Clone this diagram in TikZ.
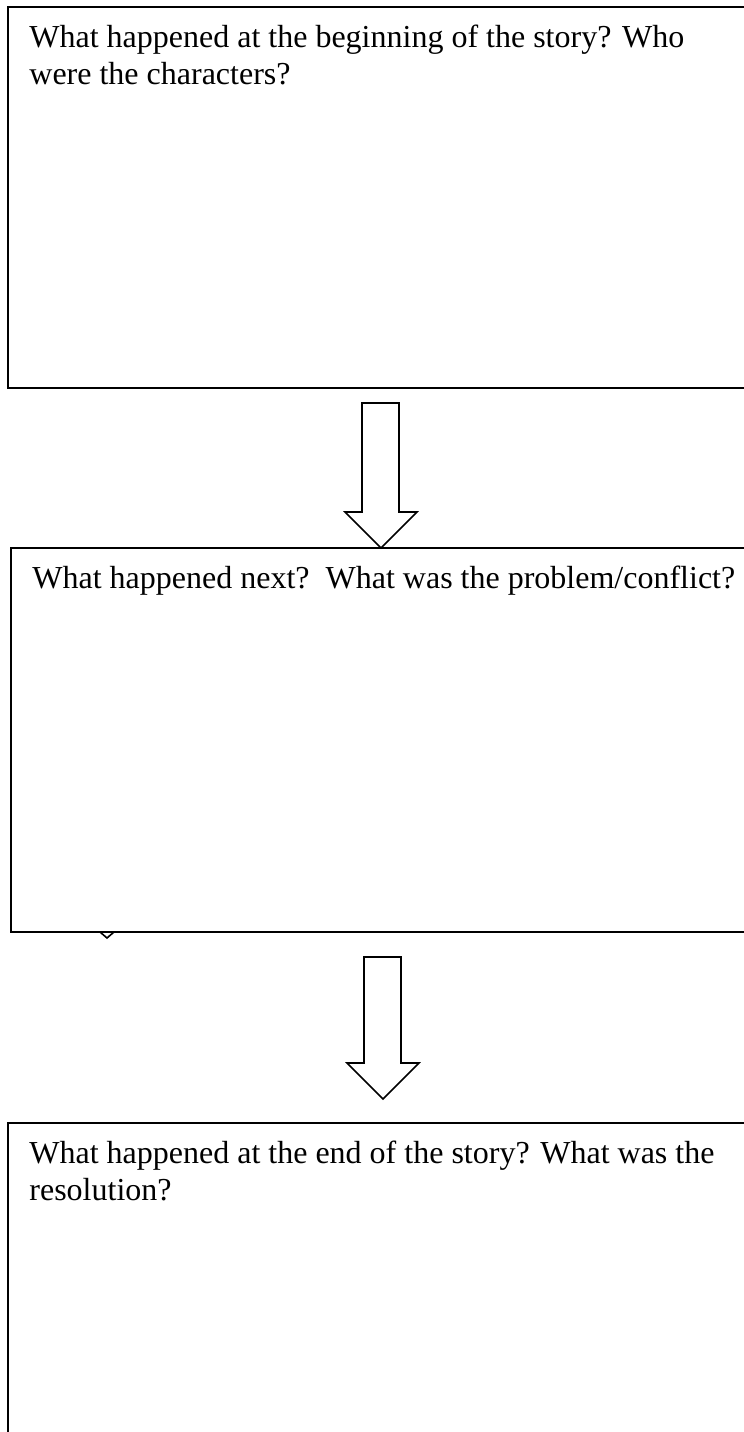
\documentclass[tikz,border=0pt]{standalone}
\usepackage{fontspec}
\setmainfont{Liberation Serif}
\usetikzlibrary{positioning}

\tikzset{
  storybox/.style={draw, line width=1pt, anchor=north west, outer sep=0pt, minimum width=380pt},
  storytext/.style={anchor=north west, inner sep=0pt, align=left, font=\fontsize{16}{18.4}\selectfont},
  blockarrow/.style={draw, line width=0.8pt, line join=miter}
}

\begin{document}
\begin{tikzpicture}[x=0.5pt, y=-0.5pt]
        \useasboundingbox (0,0) rectangle (744,1432);
        \clip (0,0) rectangle (744,1432);
        % boxes
        \node (beginning) [storybox, minimum height=190.5pt] at (8,7) {};
        \node (middle) [storybox, minimum height=192pt] at (11,548) {};
        \node (ending) [storybox, minimum height=170pt] at (8,1123) {};
        % questions
        \node (beginningtext) [storytext] at (29,25) {What happened at the beginning of the story? Who\\were the characters?};
        \node (middletext) [storytext] at (32,566) {What happened next?\ \ What was the problem/conflict?};
        \node (endingtext) [storytext] at (29,1141) {What happened at the end of the story? What was the\\resolution?};
        % arrows
        \draw [blockarrow] (362,403) -- (399,403) -- (399,512) -- (417,512) -- (381,548) -- (345,512) -- (362,512) -- cycle;
        \draw [blockarrow] (364,957) -- (401,957) -- (401,1063) -- (419,1063) -- (383,1099) -- (347,1063) -- (364,1063) -- cycle;
        \draw [line width=0.8pt] (100,932) -- (107,938) -- (114,932); % stray tip
    \end{tikzpicture}
\end{document}
